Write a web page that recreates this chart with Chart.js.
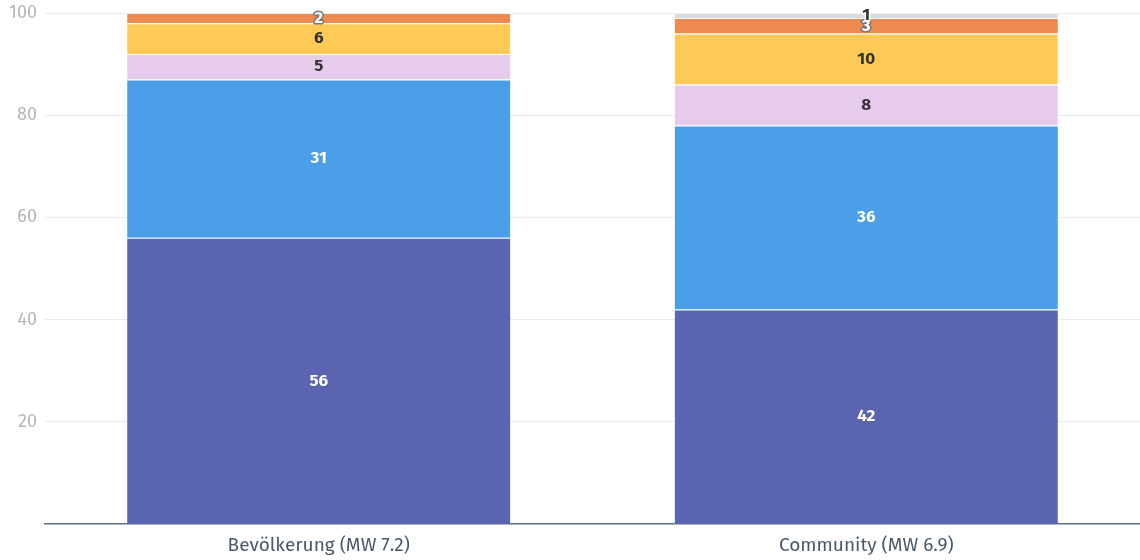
<!DOCTYPE html>
<html>
<head>
<meta charset="utf-8">
<script src="https://cdn.jsdelivr.net/npm/chart.js@4/dist/chart.umd.min.js"></script>
<style>
  html, body { margin: 0; padding: 0; background: #fff; }
  #wrap { width: 1140px; height: 560px; }
</style>
</head>
<body>
<div id="wrap"><canvas id="chart"></canvas></div>
<script>
const categories = ["Bevölkerung (MW 7.2)", "Community (MW 6.9)"];
const seriesNames = ["A", "B", "C", "D", "E", "F"];
const values = [
  [56, 42],
  [31, 36],
  [5, 8],
  [6, 10],
  [2, 3],
  [0, 1],
];
const yTicks = [20, 40, 60, 80, 100];

const colors = ["#5a64b1", "#4a9fe8", "#e7cbec", "#fdcb55", "#ed8a50", "#dcdcdc"];
const labelColors = ["#ffffff", "#ffffff", "#333333", "#333333", "#ffffff", "#333333"];
const strokeColors = [null, null, null, null, "#777777", "#ffffff"];

const fontFamily = "'Fira Sans', 'Open Sans', sans-serif";

// draws the value in the middle of each stacked segment
const labelPlugin = {
  id: "segLabels",
  afterDatasetsDraw(chart) {
    const ctx = chart.ctx;
    ctx.save();
    ctx.font = "bold 17px " + fontFamily;
    ctx.textAlign = "center";
    ctx.textBaseline = "middle";
    chart.data.datasets.forEach((ds, i) => {
      const meta = chart.getDatasetMeta(i);
      meta.data.forEach((bar, j) => {
        const v = ds.data[j];
        if (!v) return;
        const y = (bar.y + bar.base) / 2;
        if (strokeColors[i]) {
          ctx.lineWidth = 3;
          ctx.lineJoin = "round";
          ctx.strokeStyle = strokeColors[i];
          ctx.strokeText(String(v), bar.x, y);
        }
        ctx.fillStyle = labelColors[i];
        ctx.fillText(String(v), bar.x, y);
      });
    });
    ctx.restore();
  }
};

new Chart(document.getElementById("chart"), {
  type: "bar",
  data: {
    labels: categories,
    datasets: seriesNames.map((name, i) => ({
      label: name,
      data: values[i],
      backgroundColor: colors[i],
      borderColor: "rgba(255,255,255,0.3)",
      borderWidth: { top: 1, bottom: 0, left: 0, right: 0 },
      borderSkipped: false,
      categoryPercentage: 0.7,
      barPercentage: 1,
    })),
  },
  options: {
    responsive: true,
    maintainAspectRatio: false,
    animation: false,
    layout: { padding: { top: 13, right: 0, left: 0, bottom: 0 } },
    plugins: {
      legend: { display: false },
      tooltip: { enabled: false },
    },
    scales: {
      x: {
        stacked: true,
        afterFit(axis) {
          axis.height = 36;
          axis.paddingLeft = 0;
          axis.paddingRight = 0;
        },
        grid: { display: false, drawTicks: false },
        border: { color: "#5f6f7f", width: 1.5 },
        ticks: {
          color: "#4a5968",
          font: { size: 19, family: fontFamily },
          padding: 10,
        },
      },
      y: {
        stacked: true,
        min: 0,
        max: 100,
        afterBuildTicks(axis) {
          axis.ticks = yTicks.map((v) => ({ value: v }));
        },
        afterFit(axis) {
          axis.width = 45;
          axis.paddingTop = 0;
          axis.paddingBottom = 0;
        },
        grid: { color: "#ebebeb", drawTicks: false },
        border: { display: false },
        ticks: {
          color: "#b5b5b5",
          font: { size: 18, family: fontFamily },
          padding: 8,
        },
      },
    },
  },
  plugins: [labelPlugin],
});
</script>
</body>
</html>
